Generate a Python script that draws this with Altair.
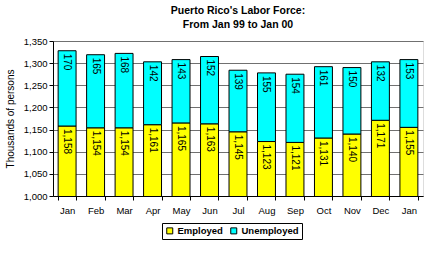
import altair as alt
import pandas as pd

months = ["Jan", "Feb", "Mar", "Apr", "May", "Jun", "Jul", "Aug", "Sep", "Oct", "Nov", "Dec", "Jan"]
employed = [1158, 1154, 1154, 1161, 1165, 1163, 1145, 1123, 1121, 1131, 1140, 1171, 1155]
unemployed = [170, 165, 168, 142, 143, 152, 139, 155, 154, 161, 150, 132, 153]
y_ticks = [1000, 1050, 1100, 1150, 1200, 1250, 1300, 1350]

rows = []
for i, (m, e, u) in enumerate(zip(months, employed, unemployed)):
    rows.append({"idx": i, "series": "Employed", "lo": 0, "hi": e, "val": e})
    rows.append({"idx": i, "series": "Unemployed", "lo": e, "hi": e + u, "val": u})
df = pd.DataFrame(rows)

label_expr = "[" + ",".join(f"'{m}'" for m in months) + "][datum.value]"
FONT = "Liberation Sans"

x = alt.X("idx:O", title=None,
          scale=alt.Scale(paddingInner=0.37, paddingOuter=0.18),
          axis=alt.Axis(labelExpr=label_expr, labelAngle=0, labelFont=FONT, labelFontSize=9.5,
                        labelColor="black", tickBand="extent", tickColor="black", domainColor="black",
                        tickSize=4, labelPadding=5, grid=False, labelOverlap=False))
y = alt.Y("hi:Q", title="Thousands of persons",
          scale=alt.Scale(domain=[1000, 1350], nice=False, zero=False),
          axis=alt.Axis(values=y_ticks, tickCount=8, format=",d", labelFont=FONT,
                        labelFontSize=9.5, labelColor="black", titleFont=FONT, titleFontSize=10,
                        titleFontWeight="normal", titleColor="black", tickColor="black",
                        domainColor="black", tickSize=4, gridColor="#707070", gridOpacity=1,
                        titlePadding=8, labelOverlap=False, labelPadding=2))

color = alt.Color("series:N", scale=alt.Scale(domain=["Employed", "Unemployed"],
                                              range=["#FFFF00", "#00FFFF"]),
                  legend=alt.Legend(title=None, orient="none", legendX=109, legendY=182,
                                    direction="horizontal", strokeColor="black", padding=3,
                                    symbolType="square", symbolSize=36, symbolStrokeColor="black",
                                    symbolStrokeWidth=1, labelFont=FONT, labelFontSize=9.5,
                                    labelFontWeight="bold", labelColor="black", columnPadding=5,
                                    symbolOpacity=1, labelOffset=3))

bars = alt.Chart(df).mark_bar(stroke="black", strokeWidth=1, clip=True).encode(
    x=x, y=y, y2="lo:Q", color=color)

text = alt.Chart(df).mark_text(angle=90, align="left", baseline="middle", dx=3,
                               font=FONT, fontSize=10, color="black").encode(
    x="idx:O", y="hi:Q", text=alt.Text("val:Q", format=",d"))

chart = alt.layer(bars, text).properties(
    width=370, height=155,
    title=alt.TitleParams(["Puerto Rico's Labor Force:", "From Jan 99 to Jan 00"],
                          font=FONT, fontSize=10.5, fontWeight="bold", color="black",
                          lineHeight=14, anchor="middle", offset=6),
    autosize=alt.AutoSizeParams(type="none"),
    padding={"left": 53, "top": 41, "right": 9, "bottom": 59},
).configure_view(stroke="#808080", strokeWidth=1).configure(background="white")

chart.save("out.html", embed_options={"renderer": "svg", "actions": False})
